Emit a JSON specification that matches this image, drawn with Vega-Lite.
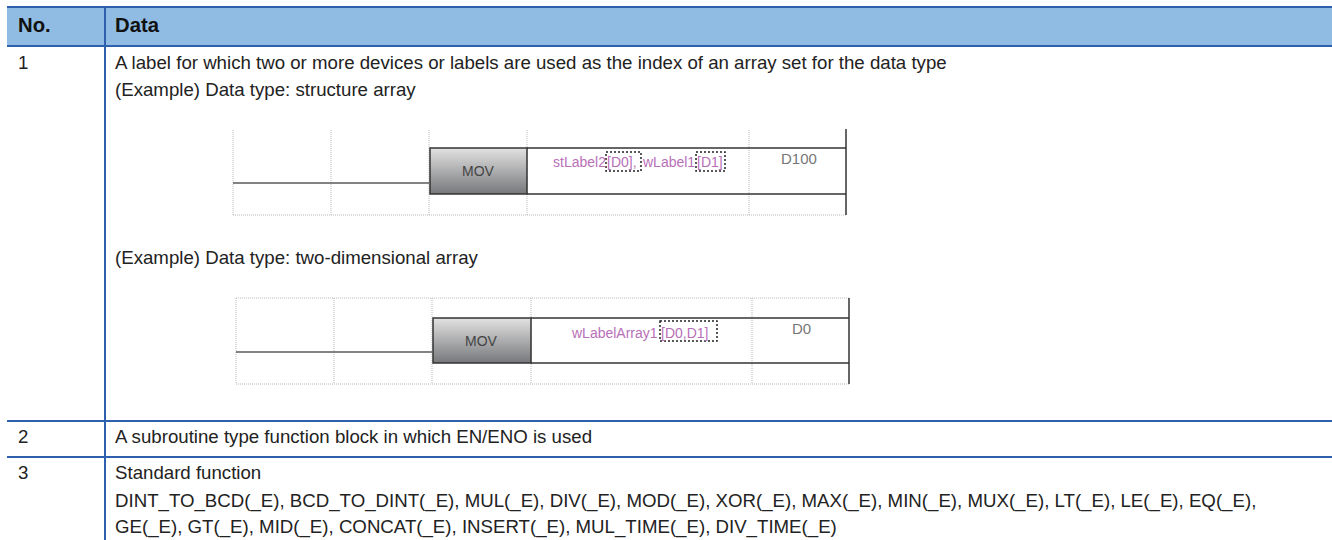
{
"$schema":"https://vega.github.io/schema/vega-lite/v6.json",
"width":1332,"height":540,"padding":0,"autosize":{"type":"none"},
"background":"white",
"view":{"stroke":null},
"datasets":{
"bands":[{"x":7,"x2":1332,"y":7,"y2":46}],
"boxes":[{"x":430,"x2":527,"y":148,"y2":194},{"x":433,"x2":531,"y":318,"y2":363}],
"lines":[
{"kind":"blue","x":7,"x2":1332,"y":7,"y2":7},
{"kind":"blue","x":7,"x2":1332,"y":46,"y2":46},
{"kind":"blue","x":7,"x2":1332,"y":421,"y2":421},
{"kind":"blue","x":7,"x2":1332,"y":457,"y2":457},
{"kind":"blue","x":105,"x2":105,"y":7,"y2":540},
{"kind":"wire","x":233,"x2":429,"y":183,"y2":183},
{"kind":"wire","x":236,"x2":432,"y":352,"y2":352},
{"kind":"solid","x":527,"x2":846,"y":148,"y2":148},
{"kind":"solid","x":527,"x2":846,"y":194,"y2":194},
{"kind":"solid","x":846,"x2":846,"y":129,"y2":215},
{"kind":"solid","x":531,"x2":849,"y":318,"y2":318},
{"kind":"solid","x":531,"x2":849,"y":363,"y2":363},
{"kind":"solid","x":849,"x2":849,"y":298,"y2":384},
{"kind":"dot","x":233,"x2":846,"y":215,"y2":215},
{"kind":"dot","x":233,"x2":233,"y":130,"y2":215},
{"kind":"dot","x":331,"x2":331,"y":130,"y2":215},
{"kind":"dot","x":429,"x2":429,"y":130,"y2":215},
{"kind":"dot","x":527,"x2":527,"y":130,"y2":215},
{"kind":"dot","x":749,"x2":749,"y":130,"y2":215},
{"kind":"dot","x":236,"x2":849,"y":298,"y2":298},
{"kind":"dot","x":236,"x2":849,"y":384,"y2":384},
{"kind":"dot","x":236,"x2":236,"y":298,"y2":384},
{"kind":"dot","x":334,"x2":334,"y":298,"y2":384},
{"kind":"dot","x":432,"x2":432,"y":298,"y2":384},
{"kind":"dot","x":531,"x2":531,"y":298,"y2":384},
{"kind":"dot","x":752,"x2":752,"y":298,"y2":384}
],
"marks":[
{"x":606,"x2":641,"y":152,"y2":171},
{"x":696,"x2":725,"y":152,"y2":171},
{"x":660,"x2":717,"y":321,"y2":341}
],
"texts":[
{"kind":"head","x":18,"y":32,"label":"No."},
{"kind":"head","x":115,"y":32,"label":"Data"},
{"kind":"body","x":18,"y":69,"label":"1"},
{"kind":"body","x":115,"y":69,"label":"A label for which two or more devices or labels are used as the index of an array set for the data type"},
{"kind":"body","x":115,"y":96,"label":"(Example) Data type: structure array"},
{"kind":"body","x":115,"y":264,"label":"(Example) Data type: two-dimensional array"},
{"kind":"body","x":18,"y":443,"label":"2"},
{"kind":"body","x":115,"y":443,"label":"A subroutine type function block in which EN/ENO is used"},
{"kind":"body","x":18,"y":479,"label":"3"},
{"kind":"body","x":115,"y":479,"label":"Standard function"},
{"kind":"body","x":115,"y":507,"label":"DINT_TO_BCD(_E), BCD_TO_DINT(_E), MUL(_E), DIV(_E), MOD(_E), XOR(_E), MAX(_E), MIN(_E), MUX(_E), LT(_E), LE(_E), EQ(_E),"},
{"kind":"body","x":115,"y":533,"label":"GE(_E), GT(_E), MID(_E), CONCAT(_E), INSERT(_E), MUL_TIME(_E), DIV_TIME(_E)"},
{"kind":"mov","x":462,"y":176,"label":"MOV"},
{"kind":"mov","x":465,"y":346,"label":"MOV"},
{"kind":"device","x":781,"y":164,"label":"D100"},
{"kind":"device","x":792,"y":334,"label":"D0"},
{"kind":"var","x":553,"y":167,"label":"stLabel2"},
{"kind":"var","x":607,"y":167,"label":"[D0],"},
{"kind":"var","x":643,"y":167,"label":"wLabel1"},
{"kind":"var","x":697,"y":167,"label":"[D1]"},
{"kind":"var","x":572,"y":338,"label":"wLabelArray1"},
{"kind":"var","x":661,"y":338,"label":"[D0,D1]"}
]
},
"encoding":{
"x":{"field":"x","type":"quantitative","axis":null,"scale":{"domain":[0,1332],"nice":false,"zero":false}},
"y":{"field":"y","type":"quantitative","axis":null,"scale":{"domain":[0,540],"reverse":true,"nice":false,"zero":false}}
},
"layer":[
{"data":{"name":"bands"},"mark":{"type":"rect","fill":"#90BCE3"},"encoding":{"x2":{"field":"x2"},"y2":{"field":"y2"}}},
{"data":{"name":"lines"},"transform":[{"filter":"datum.kind==='dot'"}],"mark":{"type":"rule","stroke":"#b8b8b8","strokeWidth":1,"strokeDash":[1,1]},"encoding":{"x2":{"field":"x2"},"y2":{"field":"y2"}}},
{"data":{"name":"lines"},"transform":[{"filter":"datum.kind==='blue'"}],"mark":{"type":"rule","stroke":"#2E60AD","strokeWidth":2},"encoding":{"x2":{"field":"x2"},"y2":{"field":"y2"}}},
{"data":{"name":"lines"},"transform":[{"filter":"datum.kind==='wire'"}],"mark":{"type":"rule","stroke":"#5a5a5a","strokeWidth":1.7},"encoding":{"x2":{"field":"x2"},"y2":{"field":"y2"}}},
{"data":{"name":"lines"},"transform":[{"filter":"datum.kind==='solid'"}],"mark":{"type":"rule","stroke":"#333333","strokeWidth":1.5},"encoding":{"x2":{"field":"x2"},"y2":{"field":"y2"}}},
{"data":{"name":"boxes"},"mark":{"type":"rect","stroke":"#333333","strokeWidth":1.5,"fill":{"gradient":"linear","x1":0,"y1":0,"x2":0,"y2":1,"stops":[{"offset":0,"color":"#e2e2e2"},{"offset":1,"color":"#77787b"}]}},"encoding":{"x2":{"field":"x2"},"y2":{"field":"y2"}}},
{"data":{"name":"marks"},"mark":{"type":"rect","fill":"transparent","stroke":"#222222","strokeWidth":1.5,"strokeDash":[2,2]},"encoding":{"x2":{"field":"x2"},"y2":{"field":"y2"}}},
{"data":{"name":"texts"},"transform":[{"filter":"datum.kind==='head'"}],"mark":{"type":"text","align":"left","baseline":"alphabetic","font":"Liberation Sans","fontSize":20.3,"fontWeight":"bold","fill":"#111111"},"encoding":{"text":{"field":"label"}}},
{"data":{"name":"texts"},"transform":[{"filter":"datum.kind==='body'"}],"mark":{"type":"text","align":"left","baseline":"alphabetic","font":"Liberation Sans","fontSize":18.67,"fill":"#222222"},"encoding":{"text":{"field":"label"}}},
{"data":{"name":"texts"},"transform":[{"filter":"datum.kind==='mov'"}],"mark":{"type":"text","align":"left","baseline":"alphabetic","font":"Liberation Sans","fontSize":14,"fill":"#444444"},"encoding":{"text":{"field":"label"}}},
{"data":{"name":"texts"},"transform":[{"filter":"datum.kind==='device'"}],"mark":{"type":"text","align":"left","baseline":"alphabetic","font":"Liberation Sans","fontSize":15,"fill":"#777777"},"encoding":{"text":{"field":"label"}}},
{"data":{"name":"texts"},"transform":[{"filter":"datum.kind==='var'"}],"mark":{"type":"text","align":"left","baseline":"alphabetic","font":"Liberation Sans","fontSize":14,"fill":"#B870B8"},"encoding":{"text":{"field":"label"}}}
]
}
